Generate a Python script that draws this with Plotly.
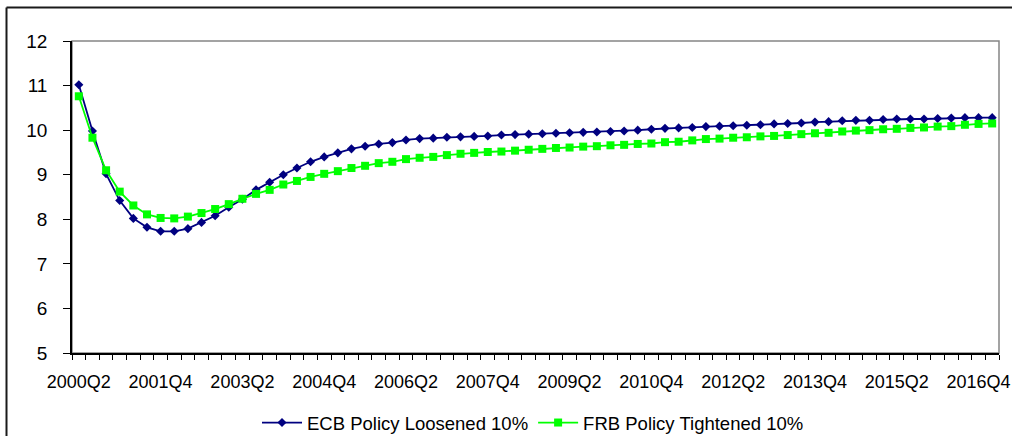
import plotly.graph_objects as go

# Quarterly periods, 2000Q2 through 2017Q1
quarters = []
year, q = 2000, 2
while len(quarters) < 68:
    quarters.append(f"{year}Q{q}")
    q += 1
    if q > 4:
        q, year = 1, year + 1

tick_labels = ["2000Q2", "2001Q4", "2003Q2", "2004Q4", "2006Q2", "2007Q4",
               "2009Q2", "2010Q4", "2012Q2", "2013Q4", "2015Q2", "2016Q4"]

ecb_loosened = [11.02, 9.98, 9.02, 8.42, 8.02, 7.82, 7.73, 7.73, 7.79, 7.93,
                8.08, 8.27, 8.45, 8.66, 8.83, 9.00, 9.15, 9.29, 9.40, 9.49,
                9.58, 9.64, 9.69, 9.72, 9.78, 9.81, 9.82, 9.84, 9.85, 9.86,
                9.87, 9.89, 9.90, 9.91, 9.92, 9.93, 9.94, 9.95, 9.96, 9.97,
                9.98, 10.00, 10.02, 10.04, 10.05, 10.06, 10.08, 10.09, 10.10, 10.11,
                10.12, 10.14, 10.15, 10.16, 10.18, 10.19, 10.21, 10.22, 10.22, 10.24,
                10.25, 10.25, 10.25, 10.26, 10.27, 10.28, 10.28, 10.28]

frb_tightened = [10.76, 9.83, 9.10, 8.62, 8.31, 8.11, 8.03, 8.02, 8.06, 8.14,
                 8.23, 8.34, 8.46, 8.57, 8.66, 8.78, 8.86, 8.95, 9.02, 9.08,
                 9.15, 9.20, 9.26, 9.29, 9.35, 9.38, 9.40, 9.44, 9.47, 9.49,
                 9.51, 9.52, 9.54, 9.56, 9.58, 9.60, 9.61, 9.63, 9.64, 9.66,
                 9.67, 9.69, 9.70, 9.73, 9.74, 9.77, 9.80, 9.81, 9.83, 9.84,
                 9.86, 9.87, 9.89, 9.91, 9.93, 9.94, 9.97, 9.99, 10.00, 10.02,
                 10.03, 10.05, 10.06, 10.08, 10.09, 10.12, 10.14, 10.15]

x_pos = list(range(len(quarters)))
label_pos = [quarters.index(t) for t in tick_labels]

FONT = "Liberation Sans, Arial, sans-serif"
W, H = 1012, 436
ML, MR, MT, MB = 72, 13, 41, 83
plot_w, plot_h = W - ML - MR, H - MT - MB


def px_to_paper_x(px):
    return (px - ML) / plot_w


def px_to_paper_y(py):
    return (H - MB - py) / plot_h


fig = go.Figure()
fig.add_trace(go.Scatter(
    x=x_pos, y=ecb_loosened, text=quarters, name="ECB Policy Loosened 10%",
    mode="lines+markers",
    line=dict(color="#000080", width=1.8),
    marker=dict(symbol="diamond", size=7, color="#000080"),
    hovertemplate="%{text}: %{y}<extra></extra>",
))
fig.add_trace(go.Scatter(
    x=x_pos, y=frb_tightened, text=quarters, name="FRB Policy Tightened 10%",
    mode="lines+markers",
    line=dict(color="#00FF00", width=1.8),
    marker=dict(symbol="square", size=8, color="#00FF00"),
    hovertemplate="%{text}: %{y}<extra></extra>",
))

shapes = [
    # grey frame of the plotting area (left/bottom covered by black axes)
    dict(type="rect", xref="paper", yref="paper", x0=0, x1=1, y0=0, y1=1,
         line=dict(color="#858585", width=1.5), layer="below"),
    # outer chart border
    dict(type="line", xref="paper", yref="paper",
         x0=px_to_paper_x(6.5), x1=px_to_paper_x(6.5),
         y0=px_to_paper_y(7.5), y1=px_to_paper_y(H + 5),
         line=dict(color="#1a1a1a", width=2)),
    dict(type="line", xref="paper", yref="paper",
         x0=px_to_paper_x(6.5), x1=px_to_paper_x(W + 5),
         y0=px_to_paper_y(7.5), y1=px_to_paper_y(7.5),
         line=dict(color="#1a1a1a", width=2)),
]

fig.update_layout(
    width=W, height=H,
    margin=dict(l=ML, r=MR, t=MT, b=MB, autoexpand=False),
    paper_bgcolor="white", plot_bgcolor="white",
    font=dict(family=FONT, size=18, color="black"),
    showlegend=True,
    legend=dict(orientation="h", x=px_to_paper_x(533), xanchor="center",
                y=px_to_paper_y(423), yanchor="middle",
                font=dict(size=18.5), itemwidth=40, tracegroupgap=0),
    shapes=shapes,
    hovermode="closest",
)

fig.update_xaxes(
    range=[-0.5, len(quarters) - 0.5],
    tickmode="array", tickvals=label_pos, ticktext=tick_labels,
    ticks="outside", ticklen=5, tickcolor="rgba(0,0,0,0)",
    minor=dict(tickmode="array",
               tickvals=[i - 0.5 for i in range(len(quarters) + 1)],
               ticks="outside", ticklen=5, tickwidth=1, tickcolor="black"),
    showline=True, linecolor="black", linewidth=1.5,
    showgrid=False, zeroline=False,
    tickfont=dict(size=18), ticklabelstandoff=7,
)
fig.update_yaxes(
    range=[5, 12], tickmode="linear", tick0=5, dtick=1,
    ticks="outside", ticklen=7, tickcolor="black", tickwidth=1,
    showline=True, linecolor="black", linewidth=1.5,
    showgrid=False, zeroline=False,
    tickfont=dict(size=19), ticklabelstandoff=12,
)

fig.write_html("out.html")
